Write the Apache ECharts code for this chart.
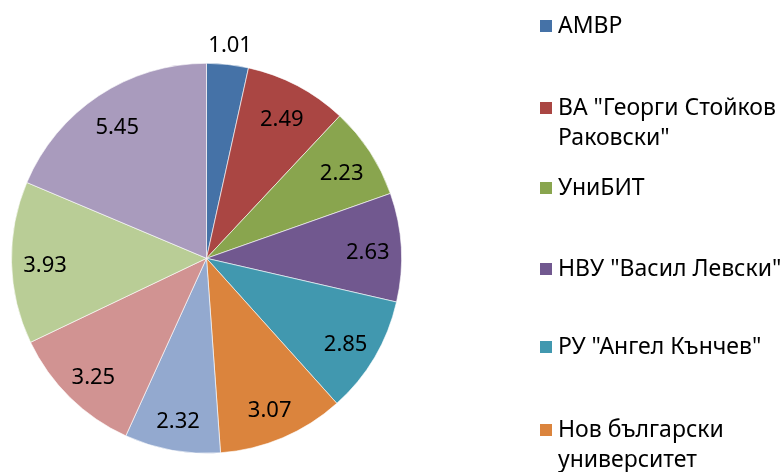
<!DOCTYPE html>
<html><head><meta charset="utf-8">
<script src="https://cdn.jsdelivr.net/npm/echarts@6/dist/echarts.min.js"></script>
<style>html,body{margin:0;padding:0;background:#fff}#c{width:784px;height:472px}</style>
</head><body><div id="c"></div>
<script>
// Legend labels (only the first six are visible in the reference; the rest are cut off)
const legendNames = ['АМВР', 'ВА "Георги Стойков\nРаковски"', 'УниБИТ', 'НВУ "Васил Левски"', 'РУ "Ангел Кънчев"', 'Нов български\nуниверситет'];
// Slice values, clockwise from 12 o'clock
const values = [1.01, 2.49, 2.23, 2.63, 2.85, 3.07, 2.32, 3.25, 3.93, 5.45];
const colors = ['#4572A7', '#AA4643', '#89A54E', '#71588F', '#4198AF', '#DB843D', '#93A9CF', '#D19392', '#B9CD96', '#A99BBD'];

const FONT = 'Noto Sans';
const CENTER = [206.5, 258.3];
const R = 195;
const LH = 30;
const legendCenters = [26, 108, 188, 269, 347, 430];

const nameOf = i => (legendNames[i] !== undefined ? legendNames[i] : '');

const mainData = values.map((v, i) => ({ name: nameOf(i), value: v, itemStyle: { color: colors[i] } }));
const innerLabelData = values.map((v, i) => ({ name: nameOf(i), value: v, label: { show: i !== 0 } }));
const outerLabelData = values.map((v, i) => ({ name: nameOf(i), value: v, label: { show: i === 0 } }));

const labelStyle = {
  position: 'inside',
  formatter: p => p.value.toFixed(2),
  color: '#000',
  fontSize: 22,
  fontFamily: FONT,
  offset: [0, 4]
};

const legends = legendNames.map((n, i) => {
  const lines = n.split('\n').length;
  return {
    data: [n],
    left: 538,
    top: legendCenters[i] - (2 * lines - 1) * LH / 2,
    orient: 'vertical',
    padding: 0,
    icon: 'rect',
    itemWidth: 14,
    itemHeight: 14,
    selectedMode: false,
    formatter: name => '\n'.repeat(lines - 1) + name,
    textStyle: { fontSize: 23, fontFamily: FONT, color: '#000', lineHeight: LH }
  };
});

const chart = echarts.init(document.getElementById('c'), null, { renderer: 'canvas' });
chart.setOption({
  animation: false,
  backgroundColor: '#fff',
  legend: legends,
  series: [
    {
      type: 'pie', center: CENTER, radius: [0, R], startAngle: 90, clockwise: true,
      silent: true, data: mainData,
      itemStyle: { borderColor: '#fff', borderWidth: 0.6 },
      label: { show: false }, labelLine: { show: false }, emphasis: { disabled: true }
    },
    {
      type: 'pie', center: CENTER, radius: [122, R], startAngle: 90, clockwise: true,
      silent: true, data: innerLabelData,
      itemStyle: { color: 'rgba(0,0,0,0)', borderWidth: 0 },
      label: labelStyle, labelLine: { show: false }, emphasis: { disabled: true }
    },
    {
      type: 'pie', center: CENTER, radius: [205, 225], startAngle: 90, clockwise: true,
      silent: true, data: outerLabelData,
      itemStyle: { color: 'rgba(0,0,0,0)', borderWidth: 0 },
      label: labelStyle, labelLine: { show: false }, emphasis: { disabled: true }
    }
  ]
});
</script>
</body></html>
